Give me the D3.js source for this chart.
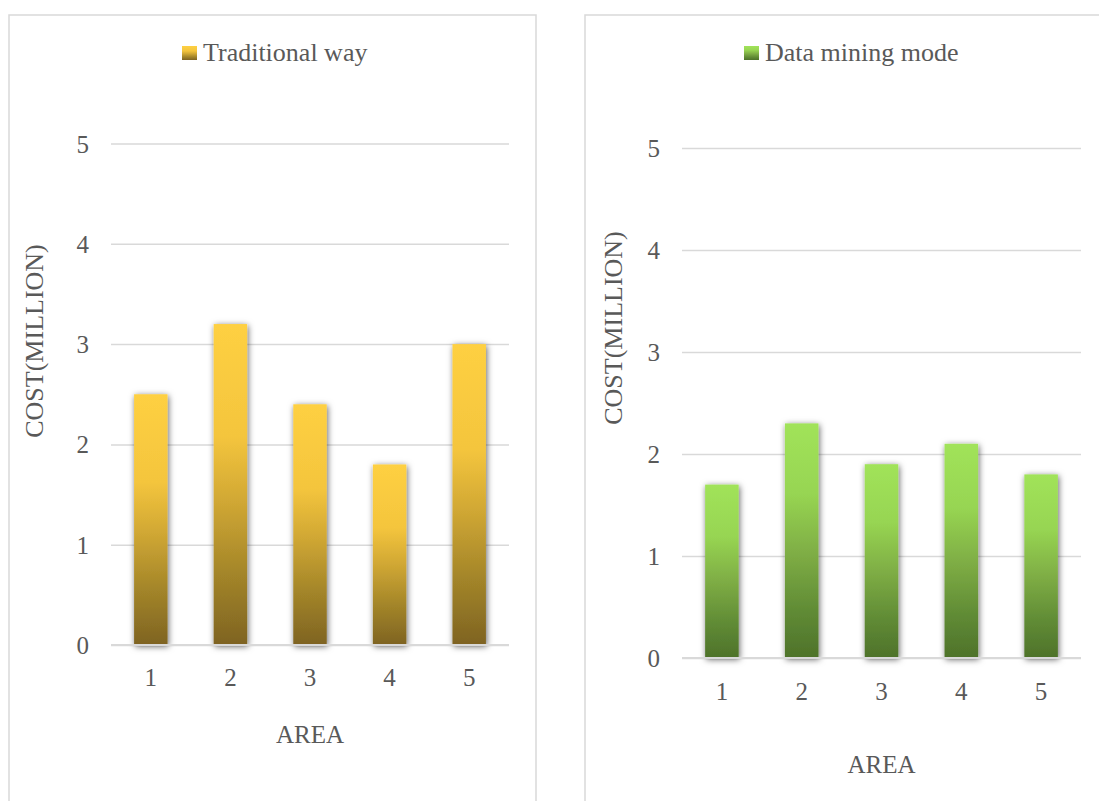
<!DOCTYPE html>
<html>
<head>
<meta charset="utf-8">
<script src="https://cdn.jsdelivr.net/npm/d3@7"></script>
<style>
  html, body { margin: 0; padding: 0; background: #fff; }
  svg { display: block; }
  svg text { font-family: "Liberation Serif", "Times New Roman", Times, serif !important; fill: #595959; }
</style>
</head>
<body>
<svg id="chart" width="1099" height="801"></svg>
<script>
// ---- data ----
const areas = ["1", "2", "3", "4", "5"];
const traditionalWay = [2.5, 3.2, 2.4, 1.8, 3.0];
const dataMiningMode = [1.7, 2.3, 1.9, 2.1, 1.8];
const yTicks = [0, 1, 2, 3, 4, 5];
const seriesNames = ["Traditional way", "Data mining mode"];
const xTitle = "AREA";
const yTitle = "COST(MILLION)";

const FONT = "Liberation Serif, Times New Roman, serif";
const svg = d3.select("#chart").attr("font-family", FONT);
const defs = svg.append("defs");

function addGradient(id, stops) {
  const g = defs.append("linearGradient").attr("id", id)
    .attr("x1", 0).attr("y1", 0).attr("x2", 0).attr("y2", 1);
  stops.forEach(s => g.append("stop").attr("offset", s[0]).attr("stop-color", s[1]));
}
addGradient("gYellow", [[0, "#FED042"], [0.35, "#F4C53D"], [0.55, "#D1A834"], [0.78, "#A38529"], [1, "#7E6322"]]);
addGradient("gGreen", [[0, "#A1E35A"], [0.3, "#97D552"], [0.55, "#7FAE45"], [0.8, "#608B35"], [1, "#4E722A"]]);

const f = defs.append("filter").attr("id", "shadow")
  .attr("x", "-50%").attr("y", "-10%").attr("width", "200%").attr("height", "125%");
f.append("feDropShadow").attr("dx", 1).attr("dy", 1.5).attr("stdDeviation", 3)
  .attr("flood-color", "#000").attr("flood-opacity", 0.6);

function panel(cfg) {
  svg.append("rect")
    .attr("x", cfg.box[0]).attr("y", cfg.box[1])
    .attr("width", cfg.box[2]).attr("height", cfg.box[3])
    .attr("fill", "none").attr("stroke", "#D9D9D9").attr("stroke-width", 1.5);

  const x = d3.scaleBand().domain(areas).range(cfg.xr).paddingInner(0.58).paddingOuter(0.29);
  const y = d3.scaleLinear().domain([0, 5]).range(cfg.yr);

  const grid = svg.append("g").attr("transform", `translate(${cfg.xr[0]},0)`)
    .call(d3.axisLeft(y).tickValues(yTicks).tickSize(-(cfg.xr[1] - cfg.xr[0])).tickFormat(""));
  grid.select(".domain").remove();
  grid.selectAll(".tick line").attr("stroke", "#D9D9D9").attr("stroke-width", 1.5);

  const yl = svg.append("g").attr("transform", `translate(${cfg.yLabelX},0)`)
    .call(d3.axisLeft(y).tickValues(yTicks).tickSize(0).tickPadding(0).tickFormat(d3.format("d")));
  yl.attr("font-family", FONT).attr("font-size", 25);
  yl.select(".domain").remove();
  yl.selectAll("text").attr("fill", "#595959").attr("text-anchor", "end").attr("dy", "0.34em");

  svg.append("g").selectAll("rect").data(cfg.values).join("rect")
    .attr("x", (d, i) => x(areas[i]))
    .attr("y", d => y(d))
    .attr("width", x.bandwidth())
    .attr("height", d => y(0) - y(d))
    .attr("fill", `url(#${cfg.grad})`)
    .attr("filter", "url(#shadow)");

  svg.append("line").attr("x1", cfg.xr[0]).attr("x2", cfg.xr[1])
    .attr("y1", y(0)).attr("y2", y(0)).attr("stroke", "#D9D9D9").attr("stroke-width", 2);

  const xl = svg.append("g").attr("transform", `translate(0,${cfg.xLabelY})`)
    .call(d3.axisBottom(x).tickSize(0).tickPadding(0));
  xl.attr("font-family", FONT).attr("font-size", 25);
  xl.select(".domain").remove();
  xl.selectAll("text").attr("fill", "#595959").attr("dy", 0);

  svg.append("text").attr("x", (cfg.xr[0] + cfg.xr[1]) / 2).attr("y", cfg.xTitleY)
    .attr("text-anchor", "middle").attr("font-size", 25).text(xTitle);

  svg.append("text").attr("transform", `translate(${cfg.yTitle[0]},${cfg.yTitle[1]}) rotate(-90)`)
    .attr("text-anchor", "middle").attr("font-size", 26).text(yTitle);

  const lg = svg.append("g");
  lg.append("rect").attr("x", cfg.legend[0]).attr("y", cfg.legend[1] - 15)
    .attr("width", 15).attr("height", 14).attr("fill", `url(#${cfg.grad})`);
  lg.append("text").attr("x", cfg.legend[0] + 21).attr("y", cfg.legend[1])
    .attr("font-size", 26).text(cfg.name);
}

panel({
  box: [9, 15, 527, 800],
  xr: [111, 509], yr: [645, 143.5],
  values: traditionalWay, grad: "gYellow", name: seriesNames[0],
  yLabelX: 89, xLabelY: 686, xTitleY: 743,
  yTitle: [43, 341], legend: [182, 61]
});
panel({
  box: [585, 15, 540, 800],
  xr: [682, 1081], yr: [658, 148],
  values: dataMiningMode, grad: "gGreen", name: seriesNames[1],
  yLabelX: 660, xLabelY: 700, xTitleY: 773,
  yTitle: [622, 328], legend: [744, 61]
});
</script>
</body>
</html>
